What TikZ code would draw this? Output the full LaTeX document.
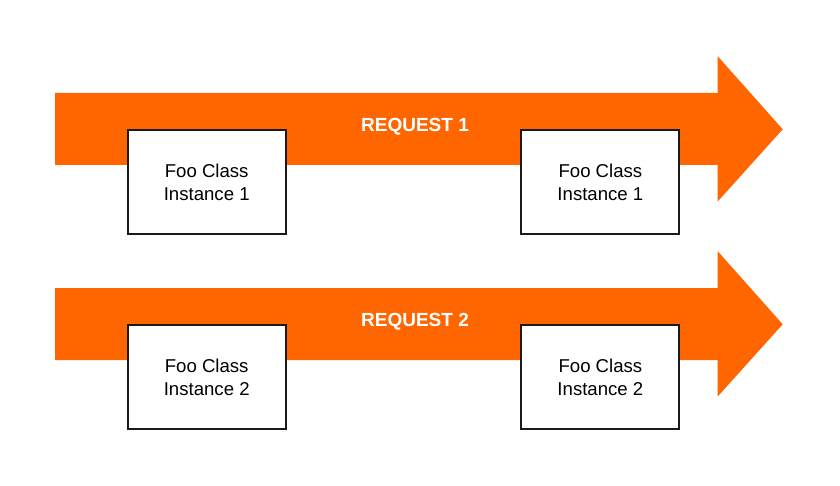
\documentclass[tikz,border=0pt]{standalone}
\usepackage{fontspec}
\setmainfont{Liberation Sans}
\definecolor{arroworange}{HTML}{FF6600}
\definecolor{boxline}{HTML}{1A1A1A}
\begin{document}
\begin{tikzpicture}[x=1pt,y=-1pt,
  fooclass/.style={draw=boxline,line width=2pt,fill=white,minimum width=158pt,minimum height=104pt,inner sep=0pt,align=center,font=\fontsize{18.6}{23}\selectfont},
  reqlabel/.style={text=white,font=\fontsize{19}{22}\selectfont\bfseries},
  bigarrow/.style={fill=arroworange,draw=none}]
\useasboundingbox (0,0) rectangle (840,486);
% arrow 1
\fill[bigarrow] (55,93) -- (717.5,93) -- (717.5,56) -- (782.7,129.3) -- (717.5,201.7) -- (717.5,165) -- (55,165) -- cycle;
\node[reqlabel] (req1) at (415,127.2) {REQUEST 1};
\node[fooclass] (a1) at (206.7,182) {Foo Class\\Instance 1};
\node[fooclass] (b1) at (600.4,182) {Foo Class\\Instance 1};
% arrow 2
\fill[bigarrow] (55,288) -- (717.5,288) -- (717.5,251) -- (782.7,324.3) -- (717.5,396.7) -- (717.5,360) -- (55,360) -- cycle;
\node[reqlabel] (req2) at (415,322.2) {REQUEST 2};
\node[fooclass] (a2) at (206.7,377) {Foo Class\\Instance 2};
\node[fooclass] (b2) at (600.4,377) {Foo Class\\Instance 2};
\end{tikzpicture}
\end{document}
